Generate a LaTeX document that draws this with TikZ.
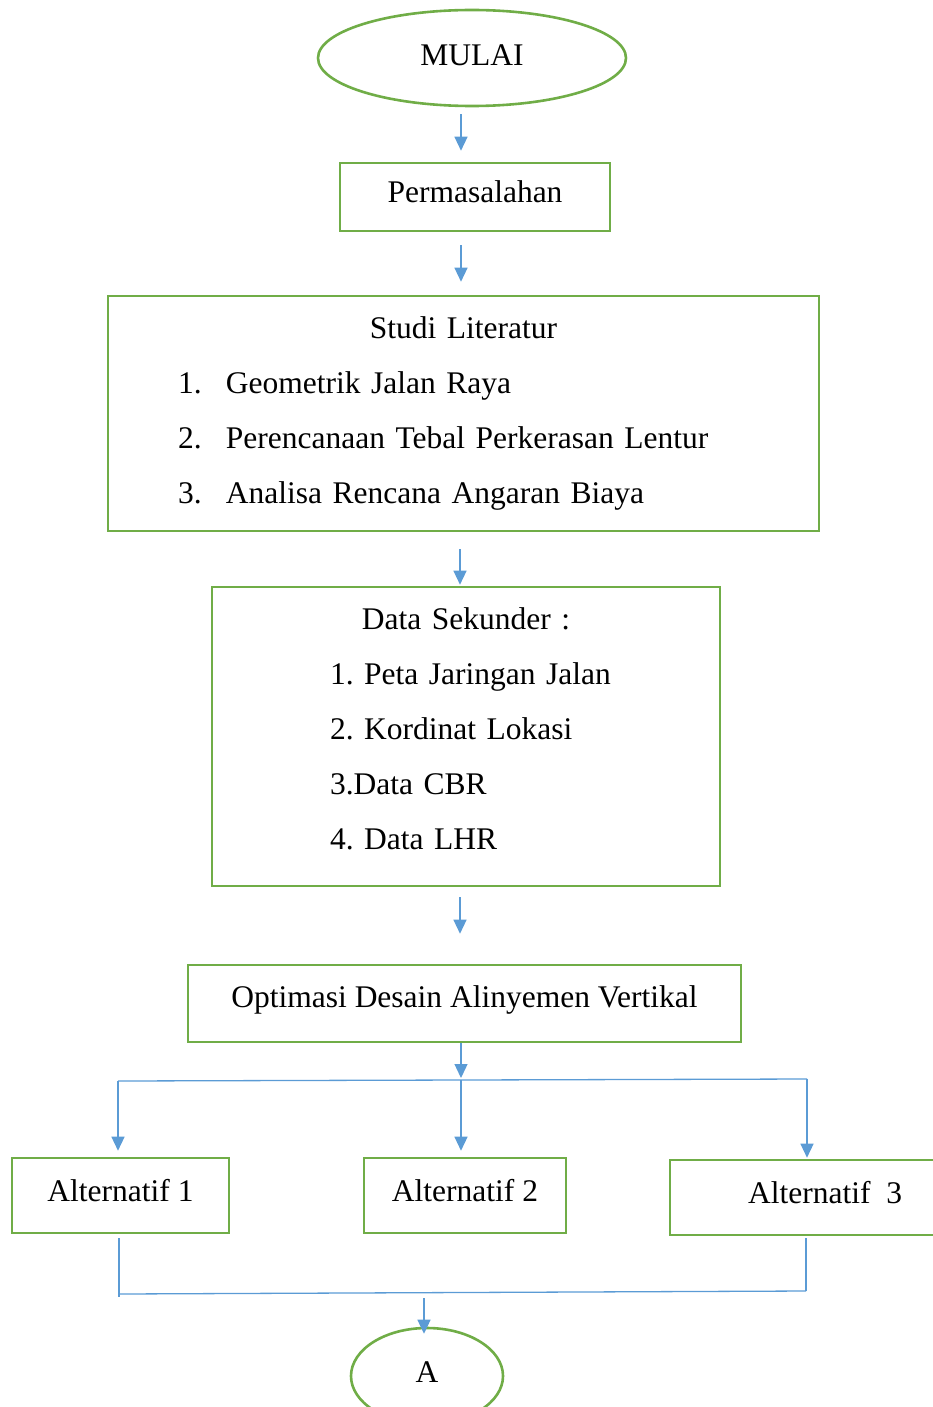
\documentclass[tikz,border=0pt]{standalone}
\usepackage{fontspec}
\setmainfont{Liberation Serif}
\usetikzlibrary{arrows.meta,shapes.geometric}

\definecolor{boxgreen}{HTML}{70AD47}
\definecolor{lineblue}{HTML}{5B9BD5}

\tikzset{
  box/.style={draw=boxgreen, line width=2.6pt, inner sep=0pt},
  oval/.style={ellipse, draw=boxgreen, line width=2.6pt, inner sep=0pt},
  link/.style={draw=lineblue, line width=1.3pt},
  flow/.style={link, -{Triangle[width=13pt,length=14pt]}},
  txt/.style={font=\fontsize{31.5}{55}\selectfont\frenchspacing},
  altbox/.style={box, minimum height=75, text depth=10pt}
}

\begin{document}
\begin{tikzpicture}[x=1pt,y=-1pt, every node/.style={txt}]
        \useasboundingbox (0,0) rectangle (933,1407);
        % main column
        \node[oval, minimum width=308, minimum height=96, text depth=6pt] (mulai) at (472,58) {MULAI};
        \node[box, minimum width=270, minimum height=68, text depth=10pt] (perm) at (475,197) {Permasalahan};
        \node[box, minimum width=711, minimum height=235, text width=711, align=left] (studi) at (463.5,413.5)
          {\makebox[\linewidth]{Studi Literatur}\\
           \hspace*{70pt}\makebox[48pt][l]{1.}Geometrik Jalan Raya\\
           \hspace*{70pt}\makebox[48pt][l]{2.}Perencanaan Tebal Perkerasan Lentur\\
           \hspace*{70pt}\makebox[48pt][l]{3.}Analisa Rencana Angaran Biaya};
        \node[box, minimum width=508, minimum height=299, text width=508, align=left] (data) at (466,736.5)
          {\makebox[\linewidth]{Data Sekunder :}\\
           \hspace*{118pt}1. Peta Jaringan Jalan\\
           \hspace*{118pt}2. Kordinat Lokasi\\
           \hspace*{118pt}3.Data CBR\\
           \hspace*{118pt}4. Data LHR\rule[-16pt]{0pt}{16pt}};
        \node[box, minimum width=553, minimum height=77, text depth=14pt] (opt) at (464.5,1003.5) {Optimasi Desain Alinyemen Vertikal};
        % alternatives
        \node[altbox, minimum width=217] (alt1) at (120.5,1195.5) {Alternatif 1};
        \node[altbox, minimum width=202] (alt2) at (465,1195.5) {Alternatif 2};
        \node[altbox, minimum width=310] (alt3) at (825,1197.5) {Alternatif\ \ 3};
        \node[oval, minimum width=152, minimum height=96, text depth=8pt] (a) at (427,1376) {A};

        \coordinate (axis) at (461,0);
        \coordinate (axisb) at (460,0);
        \draw[flow, shorten <=7pt, shorten >=11pt] (mulai.south -| axis) -- (perm.north -| axis);
        \draw[flow, shorten <=13pt, shorten >=13pt] (perm.south -| axis) -- (studi.north -| axis);
        \draw[flow, shorten <=17pt, shorten >=1pt] (studi.south -| axisb) -- (data.north -| axisb);
        \draw[flow, shorten <=10pt, shorten >=30pt] (data.south -| axisb) -- (opt.north -| axisb);

        % split to the three alternatives
        \coordinate (split) at (461,1080);
        \coordinate (fork1) at (118,1081);
        \coordinate (fork3) at (807,1079);
        \draw[flow, shorten >=2pt] (opt.south -| split) -- (split);
        \draw[link] (fork1) -- (fork3);
        \draw[flow, shorten >=6pt] (fork1) -- (alt1.north -| fork1);
        \draw[flow, shorten >=6pt] (split) -- (alt2.north -| split);
        \draw[flow, shorten >=1pt] (fork3) -- (alt3.north -| fork3);

        % merge into A
        \coordinate (join1) at (119,1297);
        \coordinate (merge1) at (119,1294);
        \coordinate (join3) at (806,1291);
        \coordinate (tomerge) at (424,1298);
        \draw[link, shorten <=4pt] (alt1.south -| join1) -- (join1);
        \draw[link, shorten <=2pt] (alt3.south -| join3) -- (join3);
        \draw[link] (merge1) -- (join3);
        \draw[flow, shorten >=-7pt] (tomerge) -- (a.north -| tomerge);
      \end{tikzpicture}
\end{document}
